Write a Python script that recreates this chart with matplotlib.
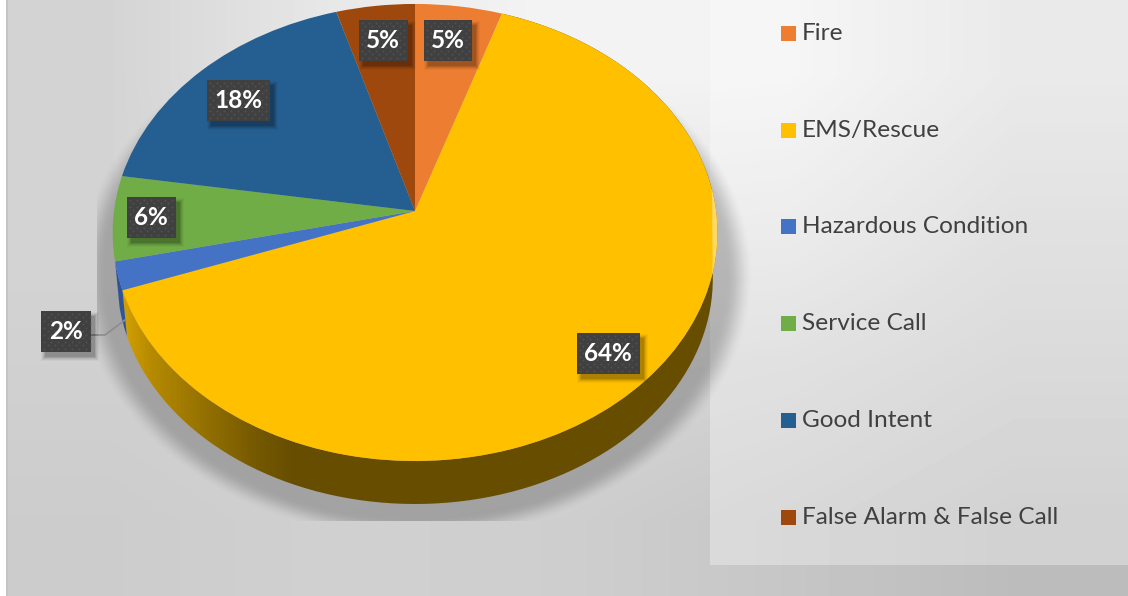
import numpy as np
import matplotlib
matplotlib.use('Agg')
from matplotlib import pyplot as plt
from matplotlib.colors import LinearSegmentedColormap
from matplotlib.patches import Polygon, Rectangle
from matplotlib.transforms import Transform

plt.rcParams['font.family'] = ['Lato', 'DejaVu Sans']

# Data
categories = ['Fire', 'EMS/Rescue', 'Hazardous Condition', 'Service Call',
              'Good Intent', 'False Alarm & False Call']
values = [5.1, 64.4, 2.0, 6.0, 17.9, 4.6]
colors = ['#ED7D31', '#FFC000', '#4472C4', '#70AD47', '#255E91', '#9E480E']

# Label box centres, same order as categories (pixels)
label_boxes = [(448, 40), (608, 353), (66, 331), (151, 217), (238, 100), (383, 40)]
label_sizes = [(48, 41), (63, 41), (50, 41), (49, 41), (63, 41), (49, 41)]
legend_rows = [33, 130, 226, 323, 420, 517]


class TiltTransform(Transform):
    # unit circle -> tilted pie top as seen in the picture
    input_dims = 2
    output_dims = 2

    def __init__(self, cx, cy, rx, ry, k):
        super().__init__()
        self.cx, self.cy, self.rx, self.ry, self.k = cx, cy, rx, ry, k

    def transform_non_affine(self, xy):
        xy = np.asarray(xy, dtype=float)
        d = 1 + self.k * xy[:, 1]
        return np.column_stack((self.cx + self.rx * xy[:, 0] / d,
                                self.cy - self.ry * xy[:, 1] / d))


W, H = 1128, 596
tilt = TiltTransform(415, 211, 301, 226.5, 0.094)
SIDE_SCALE = 0.985
SIDE_DROP = 46.75


def rim(theta1, theta2, n=120):
    t = np.radians(np.linspace(theta1, theta2, n))
    return tilt.transform(np.column_stack((np.cos(t), np.sin(t))))


def lower_rim(pts):
    return np.column_stack((415 + SIDE_SCALE * (pts[:, 0] - 415),
                            211 + SIDE_SCALE * (pts[:, 1] - 211) + SIDE_DROP))


def draw_label(ax, center, size, text):
    x0 = center[0] - size[0] / 2
    y0 = center[1] - size[1] / 2
    # soft shadow
    for grow, alpha in [(4, 0.03), (3, 0.05), (2, 0.07), (1, 0.09), (0, 0.12)]:
        ax.add_patch(Rectangle((x0 + 4 - grow, y0 + 5 - grow), size[0] + 2 * grow, size[1] + 2 * grow,
                               fc='black', ec='none', alpha=alpha, zorder=6))
    ax.add_patch(Rectangle((x0, y0), size[0], size[1], fc='#404040', ec='none', zorder=7))
    # dotted fill of the box
    gx, gy = [], []
    for j, yy in enumerate(np.arange(y0 + 3, y0 + size[1], 3.5)):
        for xx in np.arange(x0 + 3 + (3.5 if j % 2 else 0), x0 + size[0] - 1, 7):
            gx.append(xx)
            gy.append(yy)
    ax.scatter(gx, gy, s=2, c='#515151', linewidths=0, zorder=8)
    ax.text(center[0], center[1] + 0.5, text, color='white', fontsize=17.5, fontweight='bold',
            ha='center', va='center', zorder=9)


fig = plt.figure(figsize=(W / 100, H / 100), dpi=100)
ax = fig.add_axes([0, 0, 1, 1])

# the pie itself, bent into the tilted view afterwards
wedges, _ = ax.pie(values, colors=colors, startangle=90, counterclock=False,
                   wedgeprops={'linewidth': 0})
for w in wedges:
    w.set_transform(tilt + ax.transData)
    w.set_zorder(4)
    w.set_clip_on(False)
ax.set_aspect('auto')

# page background
bg = np.array([[212, 232, 244, 242, 224],
               [212, 222, 230, 228, 212],
               [208, 212, 214, 210, 200],
               [204, 208, 206, 198, 188]], dtype=float)
ax.imshow(bg, extent=(0, W, H, 0), cmap='gray', vmin=0, vmax=255, aspect='auto',
          interpolation='bilinear', zorder=0)
ax.add_patch(Rectangle((0, 0), 6, H, fc='white', ec='none', zorder=1))
ax.add_patch(Rectangle((6, 0), 1.5, H, fc='#c4c4c4', ec='none', zorder=1))

# legend panel
ax.add_patch(Rectangle((710, 0), W - 710, 565, fc='white', ec='none', alpha=0.33, zorder=1))

# soft shadow under the pie, cut off flat at the bottom
yy, xx = np.mgrid[0:H, 0:W]
dist = (np.sqrt(((xx - 415) / 320.0) ** 2 + ((yy - 275) / 250.0) ** 2) - 1) * 280
a = np.clip((16 - dist) / 24, 0, 1)
a = a * a * (3 - 2 * a) * 0.22
a[yy > 520] = 0
a[xx < 97] = 0
shadow = np.zeros((H, W, 4))
shadow[..., 3] = a
ax.imshow(shadow, extent=(0, W, H, 0), aspect='auto', interpolation='bilinear', zorder=2)

# pie side, only the front slices show it
side_cmap = LinearSegmentedColormap.from_list('side', [
    (0.0, '#d4a200'), (0.05, '#b68a00'), (0.14, '#937000'),
    (0.23, '#745800'), (0.29, '#664d00'), (1.0, '#664d00')])
grad = np.linspace(0, 1, 600).reshape(1, -1)
for w, col in zip(wedges, colors):
    mid = np.radians((w.theta1 + w.theta2) / 2)
    if np.sin(mid) > -0.1:
        continue
    top = rim(w.theta1, w.theta2)
    poly = np.vstack((top, lower_rim(top)[::-1]))
    if col == '#FFC000':
        im = ax.imshow(grad, extent=(120, 720, 520, 0), cmap=side_cmap, aspect='auto', zorder=3)
        clip = Polygon(poly, closed=True, transform=ax.transData, fc='none', ec='none')
        ax.add_patch(clip)
        im.set_clip_path(clip)
    else:
        ax.add_patch(Polygon(poly, closed=True, fc='#2f5597', ec='none', zorder=3))

# light edge on the right of the rim, thin at both ends
outer = rim(-16, 6, 40)
inner = outer.copy()
inner[:, 0] -= 5 * np.sin(np.linspace(0, np.pi, 40))
ax.add_patch(Polygon(np.vstack((outer, inner[::-1])), closed=True, fc='#FFD966', ec='none', zorder=5))

# leader line for the small slice
ax.plot([91, 105, 125], [335, 335, 320], color='#8c8c8c', lw=1.2, zorder=5)

for center, size, v in zip(label_boxes, label_sizes, values):
    draw_label(ax, center, size, f'{round(v)}%')

# legend
for y, name, col in zip(legend_rows, categories, colors):
    ax.add_patch(Rectangle((781, y - 7.5), 15, 15, fc=col, ec='none', zorder=6))
    ax.text(802, y + 0.5, name, color='#404040', fontsize=17.6, ha='left', va='center', zorder=6)

ax.set_xlim(0, W)
ax.set_ylim(H, 0)
ax.axis('off')
fig.savefig('out.png', dpi=100)
